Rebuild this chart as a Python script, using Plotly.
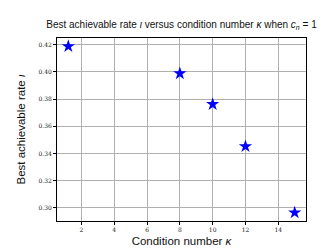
import plotly.graph_objects as go

kappa = [1.2, 8, 10, 12, 15]
rate = [0.4188, 0.3988, 0.3762, 0.3452, 0.2965]
x_ticks = [2, 4, 6, 8, 10, 12, 14]
y_ticks = [0.30, 0.32, 0.34, 0.36, 0.38, 0.40, 0.42]

fig = go.Figure()
fig.add_trace(go.Scatter(
    x=kappa, y=rate, mode="markers",
    marker=dict(symbol="star", size=10, color="#0000ff", line=dict(width=0)),
    showlegend=False,
))

axis_common = dict(
    showline=True, linecolor="black", linewidth=1, mirror=True,
    showgrid=True, gridcolor="#b0b0b0", gridwidth=1,
    ticks="outside", ticklen=3, tickcolor="black",
    zeroline=False,
    tickfont=dict(family="DejaVu Serif", size=6, color="#222"),
)

xr = max(kappa) - min(kappa)
yr = max(rate) - min(rate)
fig.update_xaxes(
    range=[min(kappa) - 0.05 * xr, max(kappa) + 0.05 * xr],
    tickvals=x_ticks, ticktext=[str(v) for v in x_ticks],
    title=dict(text="Condition number <i>κ</i>", font=dict(family="Liberation Sans", size=11.5, color="#111"), standoff=4),
    **axis_common,
)
fig.update_yaxes(
    range=[min(rate) - 0.05 * yr, max(rate) + 0.05 * yr],
    tickvals=y_ticks, ticktext=[f"{v:.2f}" for v in y_ticks],
    title=dict(text="Best achievable rate <i>ι</i>", font=dict(family="Liberation Sans", size=11.5, color="#111"), standoff=10),
    **axis_common,
)

fig.update_layout(
    width=332, height=249,
    margin=dict(l=41, r=34, t=30, b=28),
    paper_bgcolor="white", plot_bgcolor="white",
    title=dict(
        text="Best achievable rate <i>ι</i> versus condition number <i>κ</i> when <i>c</i><sub><i>n</i></sub> = 1",
        font=dict(family="Liberation Sans", size=10, color="#111"),
        x=0.5, xanchor="center", y=0.935, yanchor="middle",
        xref="paper",
    ),
)

fig.write_html("out.html")
